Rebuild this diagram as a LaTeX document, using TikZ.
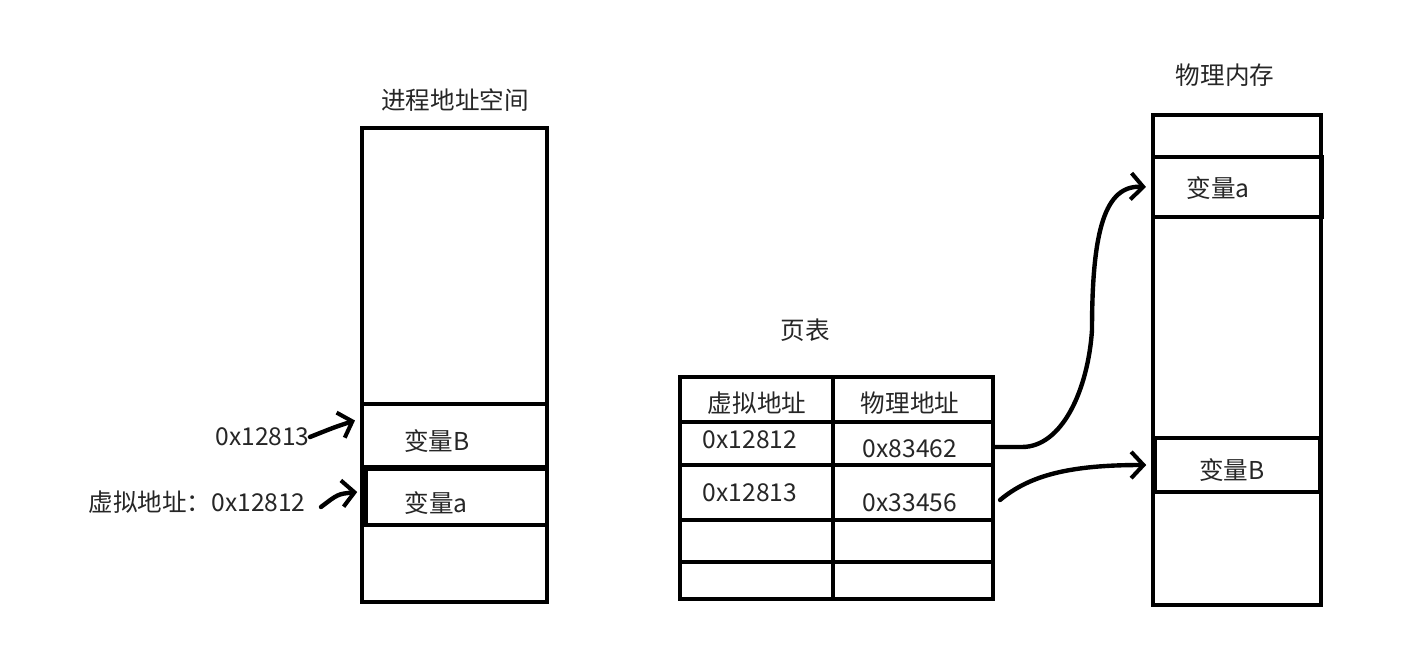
\documentclass[tikz,border=0pt]{standalone}
\usepackage{fontspec}
\setmainfont{Noto Sans CJK SC}
\usetikzlibrary{arrows.meta}
\begin{document}
\begin{tikzpicture}[x=0.02cm,y=-0.02cm,
  box/.style={draw, line width=2pt, inner sep=0pt, rectangle},
  pbox/.style 2 args={minimum width=#1*0.02cm, minimum height=#2*0.02cm},
  txt/.style={font=\fontsize{14}{16}\selectfont, inner sep=0pt, text=black!85},
  arr/.style={line width=2.5pt, line cap=round, line join=round,
    -{Straight Barb[length=7pt,width=15pt,line width=2.3pt]}}]
\useasboundingbox (0,0) rectangle (1419,645);

% process address space
\node[box, pbox={185}{474}] (proc) at (454.5,365) {};
\node[box, pbox={185}{63}] (varB) at (454.5,435.5) {};
\node[box, pbox={181}{56}] (vara) at (456.5,497) {};
\node[txt] (tB) at (437,441) {变量B};
\node[txt] (ta) at (436,503) {变量a};
\node[txt] (ptitle) at (455,100) {进程地址空间};
\node[txt, anchor=east] (l13) at (310,437) {0x12813};
\node[txt, anchor=east] (l12) at (306,502) {虚拟地址：0x12812};
\draw[arr] (l13.east) .. controls (335,427) .. ([xshift=-3pt,yshift=0.3cm]varB.west);
\draw[arr] ([xshift=0.3cm,yshift=-0.1cm]l12.east) .. controls (338,494) .. ([xshift=-4pt,yshift=0.1cm]vara.west);

% page table
\node[txt] (pttitle) at (805,330) {页表};
\node[box, pbox={153}{45}] (v0) at (756.5,399.5) {};
\node[box, pbox={160}{45}] (p0) at (913,399.5) {};
\node[box, pbox={153}{43}] (v1) at (756.5,443.5) {};
\node[box, pbox={160}{43}] (p1) at (913,443.5) {};
\node[box, pbox={153}{55}] (v2) at (756.5,492.5) {};
\node[box, pbox={160}{55}] (p2) at (913,492.5) {};
\node[box, pbox={153}{42}] (v3) at (756.5,541) {};
\node[box, pbox={160}{42}] (p3) at (913,541) {};
\node[box, pbox={153}{37}] (v4) at (756.5,580.5) {};
\node[box, pbox={160}{37}] (p4) at (913,580.5) {};
\node[txt] (hv) at (757,403) {虚拟地址};
\node[txt] (hp) at (910,403) {物理地址};
\node[txt] (a1) at (750,440) {0x12812};
\node[txt] (b1) at (910,449) {0x83462};
\node[txt] (a2) at (750,493) {0x12813};
\node[txt] (b2) at (910,503) {0x33456};

% physical memory
\node[txt] (mtitle) at (1225,75) {物理内存};
\node[box, pbox={168}{490}] (phys) at (1237,360) {};
\node[box, pbox={169}{60}] (mema) at (1237.5,187) {};
\node[box, pbox={165}{54}] (memB) at (1237.5,465) {};
\node[txt] (tma) at (1218,188) {变量a};
\node[txt] (tmB) at (1232,470) {变量B};

% mapping arrows
\coordinate (k1) at (1022,447);
\coordinate (k2) at (1092,330);
\draw[arr] ([yshift=-0.07cm]p1.east) -- (k1) .. controls (1062,447) and (1088,390) .. (k2)
  .. controls (1092,230) and (1105,185) .. ([xshift=-3pt]mema.west);
\draw[arr] ([xshift=3pt,yshift=-0.15cm]p2.east) .. controls (1030,475) and (1070,465) .. ([xshift=-4pt]memB.west);
\end{tikzpicture}
\end{document}
